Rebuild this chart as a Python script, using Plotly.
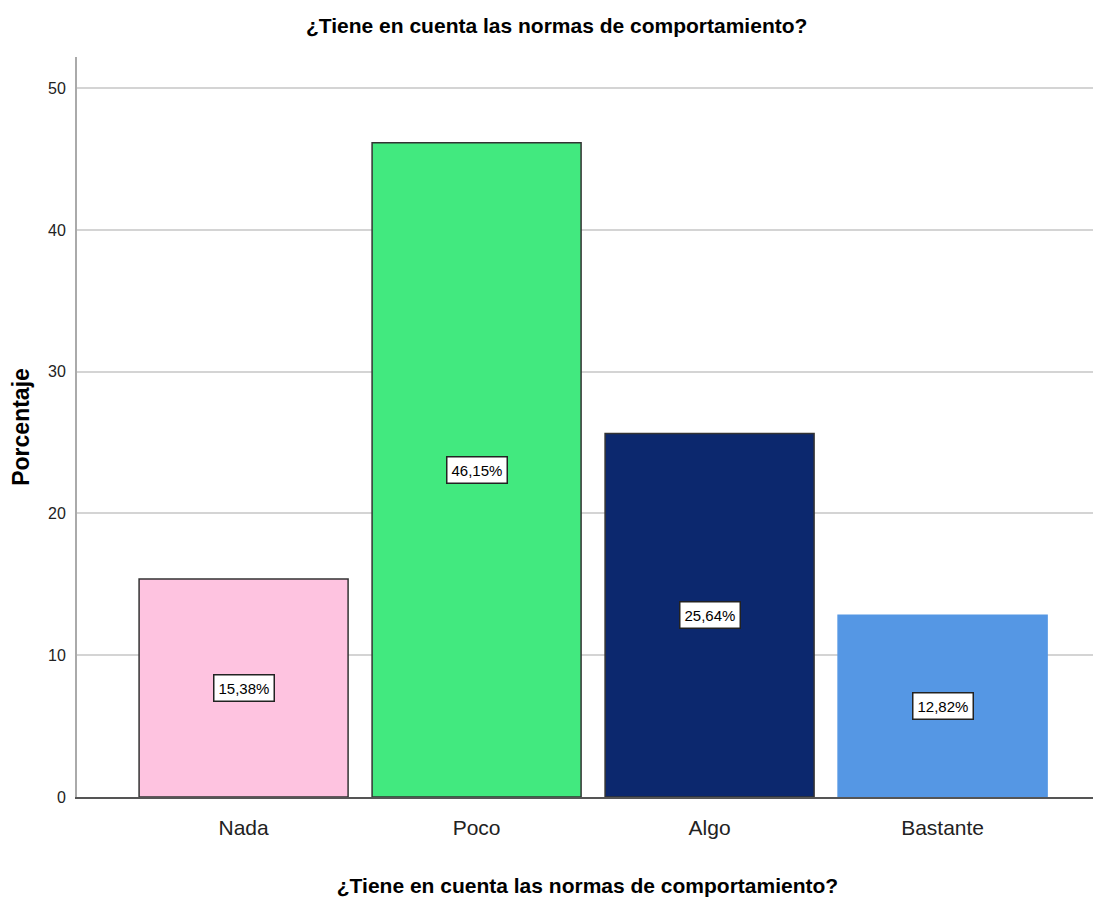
import plotly.graph_objects as go

categories = ["Nada", "Poco", "Algo", "Bastante"]
values = [15.38, 46.15, 25.64, 12.82]
labels = ["15,38%", "46,15%", "25,64%", "12,82%"]
colors = ["#FEC3E0", "#42E97F", "#0C286E", "#5597E4"]
edge_colors = ["#333333", "#333333", "#333333", "#5597E4"]
y_ticks = [0, 10, 20, 30, 40, 50]
title_text = "¿Tiene en cuenta las normas de comportamiento?"

narrow = "Liberation Sans Narrow, Arial Narrow, Liberation Sans, Arial, sans-serif"

fig = go.Figure()
fig.add_trace(go.Bar(
    x=list(range(len(categories))),
    y=values,
    marker=dict(color=colors, line=dict(color=edge_colors, width=1.5)),
    width=0.897,
    hoverinfo="skip",
))

for i, (v, lab) in enumerate(zip(values, labels)):
    fig.add_annotation(
        x=i, y=v / 2, text=lab, showarrow=False,
        font=dict(family=narrow, size=15, color="black"),
        bgcolor="white", bordercolor="#222222", borderwidth=1.5, borderpad=4,
    )

fig.update_layout(
    width=1093, height=896,
    paper_bgcolor="white", plot_bgcolor="white",
    margin=dict(l=69, r=3, t=49, b=107),
    showlegend=False,
    title=dict(text="<b>" + title_text + "</b>", x=0.502, xanchor="center",
               y=0.98, yanchor="middle",
               font=dict(family=narrow, size=21, color="black")),
)
fig.update_xaxes(
    range=[-0.715, 3.667],
    tickmode="array", tickvals=list(range(len(categories))), ticktext=categories,
    tickfont=dict(family=narrow, size=21, color="#222222"),
    showline=True, linecolor="#555555", linewidth=2,
    showgrid=False, zeroline=False, ticks="", ticklabelstandoff=11,
    title=dict(text="<b>" + title_text + "</b>", standoff=40,
               font=dict(family=narrow, size=21, color="black")),
)
fig.update_yaxes(
    range=[0, 52.2],
    tickmode="array", tickvals=y_ticks,
    tickfont=dict(family=narrow, size=16, color="#222222"),
    showline=True, linecolor="#aaaaaa", linewidth=2,
    showgrid=True, gridcolor="#d4d4d4", gridwidth=2,
    zeroline=False, ticks="", ticklabelstandoff=6,
    title=dict(text="<b>Porcentaje</b>", standoff=20,
               font=dict(family="Liberation Sans, Arial, sans-serif", size=23, color="black")),
)

fig.write_html("out.html")
